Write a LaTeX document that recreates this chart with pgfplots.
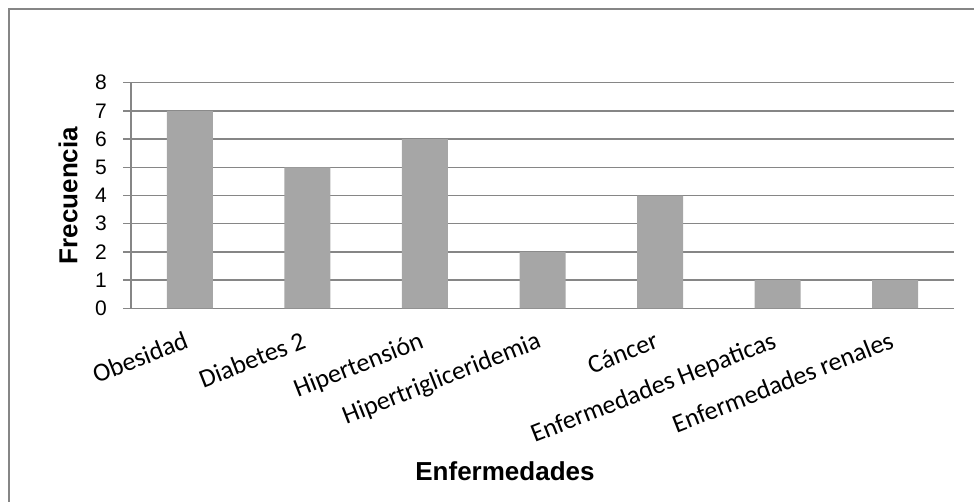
\documentclass[border=0pt]{standalone}
\usepackage{fontspec}
\setmainfont{Liberation Sans}
\newfontfamily\calibri{Carlito}
\usepackage{pgfplots}
\pgfplotsset{compat=1.18}
\definecolor{gridc}{HTML}{868686}
\definecolor{barc}{HTML}{A6A6A6}
\begin{document}
\begin{tikzpicture}
\begin{axis}[
  at={(131pt,-308.3pt)}, anchor=south west,
  scale only axis, width=823pt, height=225.6pt,
  xmin=0.5, xmax=7.5, ymin=0, ymax=8,
  axis x line*=bottom, axis y line*=left,
  axis line style={gridc, line width=1.3pt},
  ytick={0,1,2,3,4,5,6,7,8}, xtick={1,2,3,4,5,6,7},
  xticklabels={Obesidad, Diabetes 2, Hipertensión, Hipertrigliceridemia, Cáncer, Enfermedades Hepaticas, Enfermedades renales},
  ymajorgrids, grid style={gridc, line width=1.3pt},
  tick align=outside, major tick length=8pt,
  ytick style={gridc, line width=1.3pt},
  xtick style={draw=none},
  /pgf/number format/assume math mode=true,
  yticklabel style={font=\fontsize{21}{21}\selectfont, anchor=east, inner sep=0pt, xshift=-16pt},
  xticklabel style={font=\calibri\fontsize{26}{26}\selectfont, yshift=-31pt, rotate=21.5, anchor=base east, inner sep=0pt},
  ylabel={Frecuencia}, xlabel={Enfermedades},
  label style={font=\bfseries\fontsize{26}{26}\selectfont},
  ylabel style={at={(axis description cs:-0.0766,0.5)}, anchor=center},
  xlabel style={at={(axis description cs:0.4544,-0.7212)}, anchor=center},
]
\addplot[ybar, bar width=46pt, fill=barc, draw=none] coordinates {(1,7) (2,5) (3,6) (4,2) (5,4) (6,1) (7,1)};
\end{axis}
\draw[gridc, line width=2pt] (8.5pt,-700pt) -- (8.5pt,-9.5pt) -- (1200pt,-9.5pt);
\pgfresetboundingbox
\path[use as bounding box] (0pt,0pt) rectangle (974pt,-502pt);
\end{tikzpicture}
\end{document}
